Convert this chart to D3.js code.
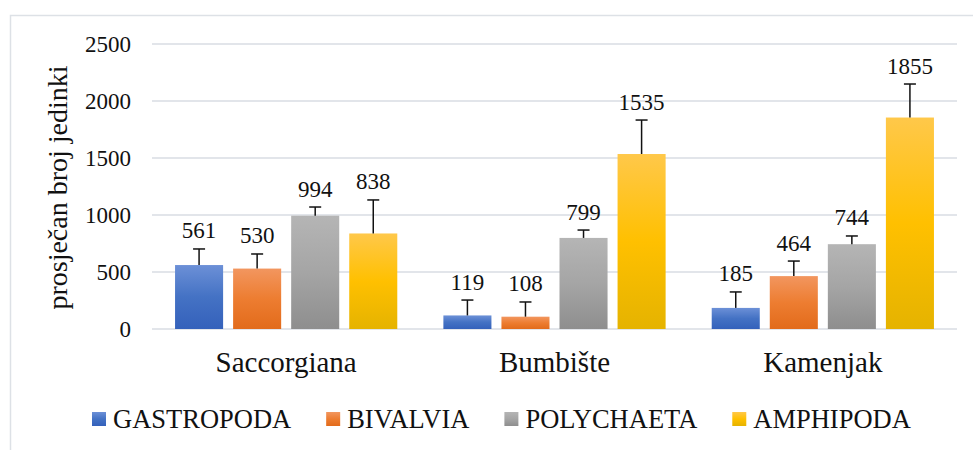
<!DOCTYPE html>
<html>
<head>
<meta charset="utf-8">
<script src="https://cdn.jsdelivr.net/npm/d3@7"></script>
<style>
  html, body { margin: 0; padding: 0; background: #fff; }
  svg { display: block; }
  text { font-family: "Liberation Serif", "Times New Roman", serif; fill: #111; }
</style>
</head>
<body>
<script>
const categories = ["Saccorgiana", "Bumbište", "Kamenjak"];
const series = ["GASTROPODA", "BIVALVIA", "POLYCHAETA", "AMPHIPODA"];
const gastropoda = [561, 119, 185];
const bivalvia = [530, 108, 464];
const polychaeta = [994, 799, 744];
const amphipoda = [838, 1535, 1855];
const errGastropoda = [141, 135, 140];
const errBivalvia = [128, 129, 132];
const errPolychaeta = [76, 69, 72];
const errAmphipoda = [294, 298, 294];
const yTicks = [0, 500, 1000, 1500, 2000, 2500];
const yTitle = "prosječan broj jedinki";

const values = [gastropoda, bivalvia, polychaeta, amphipoda];
const errors = [errGastropoda, errBivalvia, errPolychaeta, errAmphipoda];
const gradStops = [
  ["#6c90d7", "#4472c4", "#3461bb"],
  ["#f2965f", "#ed7d31", "#e26b1b"],
  ["#b5b5b5", "#a5a5a5", "#8e8e8e"],
  ["#ffc84a", "#ffc000", "#e5b300"]
];
const FONT = "'Liberation Serif', 'Times New Roman', serif";

const W = 973, H = 450;
const svg = d3.select("body").append("svg").attr("width", W).attr("height", H)
  .attr("font-family", FONT);

// gradients
const defs = svg.append("defs");
series.forEach((s, i) => {
  const g = defs.append("linearGradient").attr("id", "g" + i)
    .attr("x1", 0).attr("y1", 0).attr("x2", 0).attr("y2", 1);
  g.append("stop").attr("offset", "0%").attr("stop-color", gradStops[i][0]);
  g.append("stop").attr("offset", "50%").attr("stop-color", gradStops[i][1]);
  g.append("stop").attr("offset", "100%").attr("stop-color", gradStops[i][2]);
});

// chart frame
svg.append("rect").attr("x", 10.5).attr("y", 15.5).attr("width", 1000).attr("height", 1000)
  .attr("fill", "none").attr("stroke", "#dde1e6").attr("stroke-width", 1.5);

const pLeft = 152, pRight = 957, pTop = 44, pBottom = 329;
const y = d3.scaleLinear().domain([0, 2500]).range([pBottom, pTop]);
const x0 = d3.scaleBand().domain(categories).range([pLeft, pRight]).padding(0);
const x1 = d3.scaleBand().domain(series).range([0, x0.bandwidth()])
  .paddingInner(10 / 58).paddingOuter(0.397);

// gridlines
svg.append("g").selectAll("line").data(yTicks).join("line")
  .attr("x1", pLeft).attr("x2", pRight)
  .attr("y1", d => y(d)).attr("y2", d => y(d))
  .attr("stroke", "#d9dde3").attr("stroke-width", 1.5);

// y tick labels
svg.append("g").selectAll("text").data(yTicks).join("text")
  .attr("font-family", FONT)
  .attr("x", 131).attr("y", d => y(d)).attr("dy", "0.33em")
  .attr("text-anchor", "end").style("font-size", "23px")
  .text(d => d);

// y title
svg.append("text")
  .attr("font-family", FONT)
  .attr("transform", "translate(67," + ((pTop + pBottom) / 2 + 1) + ") rotate(-90)")
  .attr("text-anchor", "middle").style("font-size", "28px")
  .text(yTitle);

// bars
const groups = svg.append("g").selectAll("g").data(categories).join("g")
  .attr("transform", c => "translate(" + x0(c) + ",0)");

series.forEach((s, si) => {
  groups.append("rect")
    .attr("x", x1(s)).attr("width", x1.bandwidth())
    .attr("y", (c, ci) => y(values[si][ci]))
    .attr("height", (c, ci) => pBottom - y(values[si][ci]))
    .attr("fill", "url(#g" + si + ")");
  const cx = x1(s) + x1.bandwidth() / 2;
  groups.append("line")
    .attr("x1", cx).attr("x2", cx)
    .attr("y1", (c, ci) => y(values[si][ci]))
    .attr("y2", (c, ci) => y(values[si][ci] + errors[si][ci]))
    .attr("stroke", "#111").attr("stroke-width", 1.5);
  groups.append("line")
    .attr("x1", cx - 6).attr("x2", cx + 6)
    .attr("y1", (c, ci) => y(values[si][ci] + errors[si][ci]))
    .attr("y2", (c, ci) => y(values[si][ci] + errors[si][ci]))
    .attr("stroke", "#111").attr("stroke-width", 1.5);
  groups.append("text")
    .attr("font-family", FONT)
    .attr("x", cx)
    .attr("y", (c, ci) => y(values[si][ci] + errors[si][ci]) - 10.5)
    .attr("text-anchor", "middle").style("font-size", "23px")
    .text((c, ci) => values[si][ci]);
});

// category labels
svg.append("g").selectAll("text").data(categories).join("text")
  .attr("font-family", FONT)
  .attr("x", c => x0(c) + x0.bandwidth() / 2).attr("y", 372)
  .attr("text-anchor", "middle").style("font-size", "29px")
  .text(c => c);

// legend
const legend = svg.append("g");
let lx = 92;
series.forEach((s, i) => {
  legend.append("rect").attr("x", lx).attr("y", 412).attr("width", 14).attr("height", 14)
    .attr("fill", "url(#g" + i + ")");
  const t = legend.append("text").attr("font-family", FONT)
    .attr("x", lx + 21).attr("y", 428)
    .style("font-size", "26.5px").text(s);
  lx += 21 + t.node().getComputedTextLength() + 35;
});
</script>
</body>
</html>
